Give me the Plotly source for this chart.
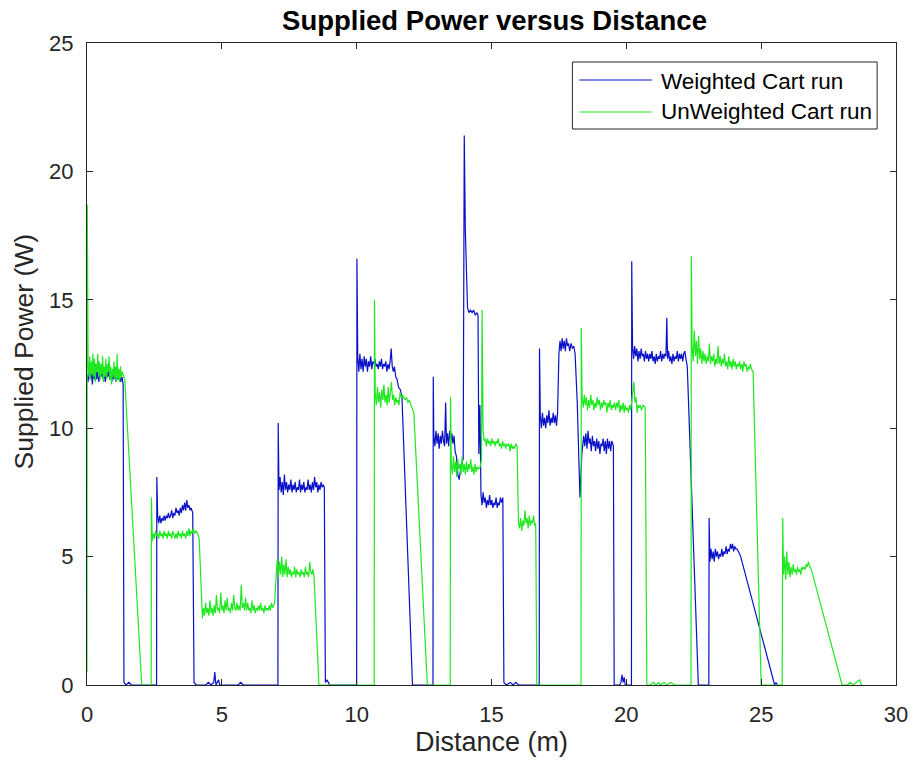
import plotly.graph_objects as go

# ---------------- data ----------------
weighted_points = [
    (0.00,12.1),(0.04,11.8),(0.08,12.4),(0.12,11.9),(0.16,12.2),(0.20,11.7),(0.24,12.3),(0.28,11.9),
    (0.32,12.5),(0.36,11.9),(0.40,12.2),(0.44,11.8),(0.48,12.3),(0.52,12.0),(0.56,12.4),(0.60,11.9),
    (0.64,12.1),(0.68,11.8),(0.72,12.3),(0.76,12.0),(0.80,12.2),(0.84,11.9),(0.88,12.1),(0.92,11.8),
    (0.96,12.2),(1.00,11.9),(1.04,12.1),(1.08,11.8),(1.12,12.0),(1.16,11.9),(1.20,12.1),(1.25,11.8),
    (1.30,12.0),(1.34,11.7),(1.37,0.1),(1.45,0.0),(1.55,0.1),(1.65,0.0),(2.58,0.0),
    (2.59,8.1),(2.62,6.6),(2.66,6.3),(2.70,6.6),(2.74,6.3),(2.78,6.5),(2.82,6.4),(2.86,6.6),(2.90,6.4),
    (2.94,6.6),(2.98,6.5),(3.02,6.7),(3.06,6.5),(3.10,6.6),(3.14,6.8),(3.18,6.5),(3.22,6.7),(3.26,6.6),
    (3.30,6.9),(3.34,6.7),(3.38,6.8),(3.42,6.6),(3.46,6.9),(3.50,6.7),(3.54,7.0),(3.58,6.8),(3.62,7.1),
    (3.66,6.8),(3.70,7.2),(3.74,6.9),(3.78,7.0),(3.82,6.8),(3.86,6.9),(3.92,6.7),(3.97,0.1),(4.05,0.0),
    (4.40,0.0),(4.50,0.1),(4.60,0.0),(4.70,0.1),(4.74,0.5),(4.78,0.0),(4.88,0.2),(4.92,0.0),(5.60,0.0),
    (5.70,0.1),(5.80,0.0),(7.08,0.0),
    (7.09,10.2),(7.12,7.6),(7.16,8.1),(7.20,7.5),(7.24,7.9),(7.28,7.4),(7.32,8.2),(7.36,7.6),(7.40,7.9),
    (7.44,7.5),(7.48,7.8),(7.52,7.6),(7.56,8.0),(7.60,7.5),(7.64,7.8),(7.68,7.6),(7.72,7.9),(7.76,7.5),
    (7.80,7.7),(7.84,7.6),(7.88,8.0),(7.92,7.5),(7.96,7.8),(8.00,7.6),(8.04,7.9),(8.08,7.5),(8.12,7.7),
    (8.16,7.6),(8.20,8.0),(8.24,7.6),(8.28,7.8),(8.32,7.5),(8.36,7.9),(8.40,7.6),(8.44,8.1),(8.48,7.7),
    (8.52,7.9),(8.56,7.5),(8.60,7.8),(8.64,7.6),(8.68,7.9),(8.72,7.7),(8.76,7.8),(8.80,7.7),(8.84,0.1),
    (8.90,0.2),(8.95,0.1),(9.00,0.0),(10.00,0.0),
    (10.01,16.6),(10.04,12.8),(10.08,12.2),(10.12,12.9),(10.16,12.3),(10.20,12.7),(10.24,12.2),(10.28,12.8),
    (10.32,12.4),(10.36,12.7),(10.40,12.2),(10.44,12.6),(10.48,12.4),(10.52,12.8),(10.56,12.3),(10.60,12.6),
    (10.64,12.5),(10.68,12.7),(10.72,12.4),(10.76,12.5),(10.80,12.3),(10.84,12.6),(10.88,12.4),(10.92,12.7),
    (10.96,12.3),(11.00,12.5),(11.04,12.4),(11.08,12.6),(11.12,12.2),(11.16,12.5),(11.20,12.3),(11.24,12.6),
    (11.28,13.1),(11.32,12.4),(11.36,12.2),(11.40,12.4),(11.45,12.0),(11.50,11.9),(11.55,11.6),(11.62,11.5),
    (11.68,11.2),(12.07,0.0),(12.83,0.0),
    (12.84,12.0),(12.86,9.7),(12.90,9.3),(12.94,9.9),(12.98,9.4),(13.02,9.8),(13.06,9.2),(13.10,9.7),
    (13.14,9.4),(13.18,9.9),(13.22,9.5),(13.26,9.3),(13.30,11.0),(13.33,9.4),(13.37,9.8),(13.41,9.3),
    (13.45,9.9),(13.49,9.5),(13.53,9.8),(13.57,9.4),(13.61,9.7),(13.65,9.1),(13.70,8.9),(13.75,8.2),
    (13.80,8.0),(13.88,8.6),(13.95,8.8),(13.99,21.4),(14.03,17.7),(14.07,15.6),(14.11,14.7),(14.16,14.5),
    (14.22,14.6),(14.28,14.5),(14.34,14.6),(14.40,14.4),(14.46,14.5),(14.50,14.4),(14.53,9.0),(14.57,10.9),
    (14.61,7.4),(14.65,7.0),(14.69,7.5),(14.73,7.1),(14.77,7.3),(14.81,6.9),(14.85,7.2),(14.89,7.0),
    (14.93,7.4),(14.97,7.0),(15.01,7.2),(15.05,6.9),(15.09,7.1),(15.13,7.0),(15.17,7.3),(15.21,6.9),
    (15.25,7.1),(15.29,7.0),(15.33,7.3),(15.37,7.1),(15.42,7.3),(15.46,0.1),(15.55,0.0),(15.70,0.1),
    (15.80,0.0),(15.90,0.1),(16.00,0.0),(16.77,0.0),
    (16.78,13.1),(16.81,10.5),(16.85,10.0),(16.89,10.6),(16.93,10.1),(16.97,10.4),(17.01,10.0),(17.05,10.5),
    (17.09,10.2),(17.13,10.7),(17.17,10.1),(17.21,10.4),(17.25,10.2),(17.29,10.6),(17.33,10.2),(17.37,10.5),
    (17.41,10.1),(17.45,10.6),(17.50,12.9),(17.54,13.4),(17.58,13.0),(17.62,13.5),(17.66,13.1),(17.70,13.4),
    (17.74,13.0),(17.78,13.5),(17.82,13.2),(17.86,13.3),(17.90,13.0),(17.95,13.3),(18.00,13.1),(18.05,13.2),
    (18.10,12.9),(18.18,11.0),(18.28,7.3),(18.35,9.0),(18.42,9.7),(18.46,9.3),(18.50,9.8),(18.54,9.2),
    (18.58,9.9),(18.62,9.4),(18.66,9.6),(18.70,9.1),(18.74,9.7),(18.78,9.3),(18.82,9.5),(18.86,9.1),
    (18.90,9.6),(18.94,9.2),(18.98,9.5),(19.02,9.0),(19.06,9.4),(19.10,9.3),(19.14,9.6),(19.18,9.1),
    (19.22,9.5),(19.26,9.0),(19.30,9.6),(19.34,9.2),(19.38,9.5),(19.42,9.1),(19.46,9.5),(19.52,9.3),
    (19.55,0.0),(19.75,0.0),(19.80,0.1),(19.84,0.4),(19.88,0.1),(19.92,0.3),(19.96,0.0),(20.19,0.0),
    (20.20,16.5),(20.23,13.2),(20.27,12.7),(20.31,13.2),(20.35,12.8),(20.39,13.1),(20.43,12.6),(20.47,13.0),
    (20.51,12.7),(20.55,13.1),(20.59,12.8),(20.63,12.9),(20.67,12.6),(20.71,13.0),(20.75,12.7),(20.79,12.9),
    (20.83,12.6),(20.87,12.9),(20.91,12.7),(20.95,13.0),(20.99,12.6),(21.03,12.8),(21.07,12.5),(21.11,12.9),
    (21.15,12.6),(21.19,12.8),(21.23,12.7),(21.27,13.0),(21.31,12.6),(21.35,12.9),(21.39,12.7),(21.43,12.9),
    (21.47,12.8),(21.50,14.3),(21.53,12.7),(21.57,13.0),(21.61,12.6),(21.65,12.8),(21.69,12.5),(21.73,12.9),
    (21.77,12.6),(21.81,12.8),(21.85,12.7),(21.89,13.0),(21.93,12.6),(21.97,12.9),(22.01,12.7),(22.05,12.9),
    (22.09,12.6),(22.13,12.9),(22.17,13.0),(22.21,12.7),(22.26,12.4),(22.67,0.0),(23.06,0.0),
    (23.07,6.5),(23.10,4.8),(23.14,5.3),(23.18,4.9),(23.22,5.2),(23.26,4.8),(23.30,5.3),(23.34,5.0),
    (23.38,5.2),(23.42,4.9),(23.46,5.1),(23.50,5.0),(23.54,5.3),(23.58,5.0),(23.62,5.2),(23.66,5.1),
    (23.70,5.4),(23.74,5.1),(23.78,5.3),(23.82,5.2),(23.86,5.5),(23.90,5.3),(23.94,5.5),(23.98,5.2),
    (24.02,5.4),(24.06,5.3),(24.10,5.3),(24.16,5.2),(24.24,5.0),(25.50,0.0),(25.55,0.1),(25.60,0.0),
]

unweighted_points = [
    (0.00,0.5),(0.01,18.7),(0.04,12.6),(0.07,12.0),(0.10,12.8),(0.13,11.9),(0.16,12.6),(0.19,12.1),
    (0.22,12.9),(0.25,12.0),(0.28,12.7),(0.31,11.8),(0.34,12.5),(0.37,12.2),(0.40,12.9),(0.43,12.0),
    (0.46,12.6),(0.49,11.9),(0.52,12.5),(0.55,12.1),(0.58,12.8),(0.61,11.8),(0.64,12.4),(0.67,12.0),
    (0.70,12.7),(0.73,11.9),(0.76,12.5),(0.79,12.2),(0.82,12.8),(0.85,11.9),(0.88,12.4),(0.91,11.7),
    (0.94,12.3),(0.97,12.0),(1.00,12.6),(1.03,11.9),(1.06,12.4),(1.09,11.8),(1.12,12.9),(1.15,11.9),
    (1.18,12.3),(1.21,11.8),(1.24,12.4),(1.27,12.0),(1.30,12.2),(1.34,12.1),(1.40,11.9),(2.03,0.0),
    (2.38,0.0),(2.39,7.3),(2.42,5.6),(2.46,5.9),(2.50,5.7),(2.54,6.0),(2.58,5.8),(2.62,5.9),(2.66,5.7),
    (2.70,6.0),(2.74,5.8),(2.78,5.9),(2.82,5.7),(2.86,6.0),(2.90,5.8),(2.94,5.9),(2.98,5.7),(3.02,6.0),
    (3.06,5.8),(3.10,5.9),(3.14,5.7),(3.18,6.0),(3.22,5.8),(3.26,5.7),(3.30,5.9),(3.34,5.7),(3.38,6.0),
    (3.42,5.8),(3.46,5.9),(3.50,5.7),(3.54,6.0),(3.58,5.8),(3.62,5.9),(3.66,5.7),(3.70,6.0),(3.74,5.8),
    (3.78,6.1),(3.82,5.8),(3.86,6.0),(3.90,5.9),(3.94,6.1),(3.98,5.9),(4.04,6.0),(4.10,5.9),(4.16,5.7),
    (4.28,2.6),(4.32,3.0),(4.36,2.7),(4.40,3.2),(4.44,2.8),(4.48,3.0),(4.52,2.7),(4.56,3.3),(4.60,2.8),
    (4.64,3.0),(4.68,2.7),(4.72,3.1),(4.76,2.8),(4.80,3.5),(4.84,2.9),(4.88,3.0),(4.92,2.8),(4.96,3.6),
    (5.00,2.9),(5.04,3.1),(5.08,2.8),(5.12,3.3),(5.16,2.9),(5.20,3.4),(5.24,2.9),(5.28,3.0),(5.32,2.8),
    (5.36,3.2),(5.40,2.9),(5.44,3.5),(5.48,3.0),(5.52,2.9),(5.56,3.2),(5.60,2.9),(5.64,3.1),(5.68,2.9),
    (5.72,3.9),(5.76,3.0),(5.80,3.2),(5.84,2.9),(5.88,3.4),(5.92,2.9),(5.96,3.2),(6.00,2.9),(6.04,3.0),
    (6.08,2.8),(6.12,3.3),(6.16,2.9),(6.20,3.1),(6.24,2.8),(6.28,3.0),(6.32,2.9),(6.36,3.1),(6.40,2.9),
    (6.44,3.2),(6.48,2.9),(6.52,3.0),(6.56,2.8),(6.60,3.1),(6.64,2.9),(6.68,3.0),(6.72,2.9),(6.76,3.1),
    (6.80,2.9),(6.84,3.2),(6.88,3.0),(6.92,3.1),(6.96,3.2),(7.02,4.4),(7.06,4.9),(7.10,4.2),(7.14,4.8),
    (7.18,4.3),(7.22,5.0),(7.26,4.2),(7.30,4.7),(7.34,4.3),(7.38,4.9),(7.42,4.2),(7.46,4.6),(7.50,4.3),
    (7.54,4.5),(7.58,4.2),(7.62,4.4),(7.66,4.3),(7.70,4.6),(7.74,4.2),(7.78,4.5),(7.82,4.3),(7.86,4.4),
    (7.90,4.2),(7.94,4.5),(7.98,4.3),(8.02,4.4),(8.06,4.2),(8.10,4.6),(8.14,4.3),(8.18,4.4),(8.22,4.2),
    (8.26,4.8),(8.30,4.4),(8.34,4.3),(8.38,4.5),(8.42,4.2),(8.60,0.0),(10.65,0.0),
    (10.66,15.0),(10.69,11.3),(10.73,10.9),(10.77,11.6),(10.81,11.0),(10.85,11.4),(10.89,10.8),(10.93,11.5),
    (10.97,11.1),(11.01,11.7),(11.05,11.0),(11.09,11.3),(11.13,10.9),(11.17,11.6),(11.21,11.0),(11.25,11.4),
    (11.29,11.8),(11.33,11.1),(11.37,11.3),(11.41,10.9),(11.45,11.2),(11.49,11.0),(11.53,11.1),(11.57,10.9),
    (11.61,11.4),(11.65,11.2),(11.70,11.3),(11.75,11.2),(11.80,11.1),(11.85,11.2),(11.90,11.0),(11.95,11.1),
    (12.00,10.9),(12.05,10.8),(12.12,10.6),(12.62,0.0),(13.47,0.0),
    (13.48,11.2),(13.51,8.6),(13.55,8.2),(13.59,8.9),(13.63,8.3),(13.67,8.7),(13.71,8.1),(13.75,8.8),
    (13.79,8.4),(13.83,8.6),(13.87,8.2),(13.91,8.9),(13.95,8.3),(13.99,8.6),(14.03,8.2),(14.07,8.7),
    (14.11,8.3),(14.15,8.6),(14.19,8.4),(14.23,8.8),(14.27,8.3),(14.31,8.5),(14.35,8.2),(14.39,8.6),
    (14.43,8.3),(14.47,8.5),(14.52,8.4),(14.58,8.5),(14.63,8.8),(14.65,14.6),(14.69,9.9),(14.73,9.5),
    (14.77,9.6),(14.81,9.3),(14.85,9.6),(14.89,9.4),(14.93,9.5),(14.97,9.3),(15.01,9.6),(15.05,9.4),
    (15.09,9.5),(15.13,9.3),(15.17,9.5),(15.21,9.4),(15.25,9.6),(15.29,9.3),(15.33,9.4),(15.37,9.2),
    (15.41,9.5),(15.45,9.3),(15.49,9.4),(15.53,9.2),(15.57,9.4),(15.61,9.3),(15.65,9.4),(15.69,9.1),
    (15.73,9.4),(15.77,9.2),(15.81,9.3),(15.85,9.2),(15.90,9.4),(15.95,9.3),(16.00,6.3),(16.04,6.1),
    (16.08,6.5),(16.12,6.0),(16.16,6.4),(16.20,6.2),(16.24,6.8),(16.28,6.3),(16.32,6.5),(16.36,6.1),
    (16.40,6.6),(16.44,6.2),(16.48,6.4),(16.52,6.3),(16.56,6.6),(16.60,6.2),(16.64,6.3),(16.68,0.0),
    (18.32,0.0),(18.33,13.9),(18.36,11.2),(18.40,10.8),(18.44,11.3),(18.48,10.9),(18.52,11.2),(18.56,10.7),
    (18.60,11.1),(18.64,10.8),(18.68,11.3),(18.72,10.9),(18.76,11.1),(18.80,10.7),(18.84,11.0),(18.88,10.8),
    (18.92,11.2),(18.96,10.9),(19.00,11.1),(19.04,10.7),(19.08,11.0),(19.12,10.8),(19.16,11.1),(19.20,10.9),
    (19.24,11.0),(19.28,10.6),(19.32,11.0),(19.36,10.8),(19.40,11.1),(19.44,10.7),(19.48,10.9),(19.52,10.8),
    (19.56,11.0),(19.60,10.7),(19.64,11.0),(19.68,10.8),(19.72,11.1),(19.76,10.6),(19.80,10.9),(19.84,10.7),
    (19.88,11.0),(19.92,10.6),(19.96,10.9),(20.00,10.7),(20.04,10.8),(20.08,10.6),(20.12,10.9),(20.16,10.7),
    (20.20,11.0),(20.24,11.3),(20.28,11.8),(20.32,11.0),(20.36,11.2),(20.40,10.6),(20.44,10.9),(20.48,10.8),
    (20.52,10.9),(20.56,10.7),(20.62,10.9),(20.70,10.8),(20.76,0.0),(20.90,0.0),(21.00,0.1),(21.10,0.0),
    (21.20,0.1),(21.25,0.0),(21.40,0.1),(21.50,0.0),(21.65,0.1),(21.80,0.0),(22.40,0.0),
    (22.41,16.7),(22.44,13.2),(22.48,12.6),(22.52,13.8),(22.56,12.8),(22.60,13.4),(22.64,12.5),(22.68,13.6),
    (22.72,12.7),(22.76,13.1),(22.80,12.5),(22.84,13.0),(22.88,12.6),(22.92,12.9),(22.96,12.5),(23.00,12.8),
    (23.04,12.6),(23.08,13.3),(23.12,12.5),(23.16,12.8),(23.20,12.6),(23.24,12.9),(23.28,12.4),(23.32,12.7),
    (23.36,12.5),(23.40,13.2),(23.44,12.5),(23.48,12.8),(23.52,12.4),(23.56,12.7),(23.60,12.5),(23.64,12.9),
    (23.68,12.4),(23.72,12.6),(23.76,12.3),(23.80,12.8),(23.84,12.4),(23.88,12.6),(23.92,12.3),(23.96,12.7),
    (24.00,12.4),(24.04,12.6),(24.08,12.3),(24.12,12.5),(24.16,12.4),(24.20,12.6),(24.24,12.3),(24.28,12.5),
    (24.32,12.2),(24.36,12.6),(24.40,12.4),(24.44,12.5),(24.48,12.2),(24.52,12.4),(24.56,12.3),(24.60,12.5),
    (24.64,12.3),(24.70,12.2),(25.00,0.0),(25.78,0.0),
    (25.80,6.5),(25.83,4.3),(25.87,5.0),(25.91,4.1),(25.95,5.2),(25.99,4.3),(26.03,4.8),(26.07,4.2),
    (26.11,4.6),(26.15,4.3),(26.19,4.7),(26.23,4.4),(26.27,4.5),(26.31,4.3),(26.35,4.6),(26.39,4.4),
    (26.43,4.5),(26.47,4.3),(26.51,4.6),(26.55,4.5),(26.59,4.6),(26.63,4.5),(26.67,4.7),(26.71,4.6),
    (26.75,4.8),(26.80,4.6),(26.86,4.5),(28.00,0.0),(28.20,0.0),(28.30,0.1),(28.40,0.0),(28.55,0.1),
    (28.65,0.2),(28.72,0.0),
]

series_names = ["Weighted Cart run", "UnWeighted Cart run"]
x_ticks = [0, 5, 10, 15, 20, 25, 30]
y_ticks = [0, 5, 10, 15, 20, 25]

weighted_x = [p[0] for p in weighted_points]
weighted_y = [p[1] for p in weighted_points]
unweighted_x = [p[0] for p in unweighted_points]
unweighted_y = [p[1] for p in unweighted_points]

BLUE = "#0a10c8"
GREEN = "#20e820"
FONT = "Liberation Sans, Arial, Helvetica, sans-serif"
AXC = "#262626"

fig = go.Figure()
fig.add_trace(go.Scatter(x=weighted_x, y=weighted_y, mode="lines", name=series_names[0],
                         line=dict(color=BLUE, width=1.2), showlegend=False))
fig.add_trace(go.Scatter(x=unweighted_x, y=unweighted_y, mode="lines", name=series_names[1],
                         line=dict(color=GREEN, width=1.2), showlegend=False))

# plot-area geometry (pixels) used for legend / label placement
L, R, T, B = 87, 902, 43, 685
W, H = R - L, B - T
def px(xp): return (xp - L) / W
def py(yp): return (B - yp) / H

shapes = [
    dict(type="rect", xref="paper", yref="paper", x0=px(576), x1=px(883), y0=py(129), y1=py(62),
         line=dict(color=AXC, width=1), fillcolor="white", layer="above"),
    dict(type="line", xref="paper", yref="paper", x0=px(583), x1=px(656), y0=py(80), y1=py(80),
         line=dict(color=BLUE, width=1.2), layer="above"),
    dict(type="line", xref="paper", yref="paper", x0=px(583), x1=px(656), y0=py(112), y1=py(112),
         line=dict(color=GREEN, width=1.2), layer="above"),
]
annotations = [
    dict(text=series_names[0], xref="paper", yref="paper", x=px(663), y=py(81), xanchor="left",
         yanchor="middle", showarrow=False, font=dict(family=FONT, size=22.5, color="#000000")),
    dict(text=series_names[1], xref="paper", yref="paper", x=px(663), y=py(112), xanchor="left",
         yanchor="middle", showarrow=False, font=dict(family=FONT, size=22.5, color="#000000")),
    # y-axis title
    dict(text="Supplied Power (W)", xref="paper", yref="paper", x=px(24), y=py(351),
         xanchor="center", yanchor="middle", textangle=-90, showarrow=False,
         font=dict(family=FONT, size=26.5, color=AXC)),
]

axis_common = dict(showgrid=False, zeroline=False, showline=True, linecolor=AXC, linewidth=1,
                   mirror="allticks", ticks="inside", ticklen=6, tickcolor=AXC, tickwidth=1,
                   tickfont=dict(family=FONT, size=22, color=AXC))

fig.update_layout(
    width=920, height=766,
    margin=dict(l=L, r=920 - R, t=T, b=766 - B),
    paper_bgcolor="white", plot_bgcolor="white",
    title=dict(text="<b>Supplied Power versus Distance</b>", x=(L + W / 2) / 920,
               xanchor="center", y=1 - 20 / 766, yanchor="middle",
               font=dict(family=FONT, size=27.5, color="#000000")),
    xaxis=dict(range=[0, 30], tickvals=x_ticks, ticklabelstandoff=10,
               title=dict(text="Distance (m)", font=dict(family=FONT, size=27, color=AXC), standoff=4),
               **axis_common),
    yaxis=dict(range=[0, 25], tickvals=y_ticks, ticklabelstandoff=8, **axis_common),
    shapes=shapes, annotations=annotations,
    showlegend=False,
)

fig.write_html("out.html")
